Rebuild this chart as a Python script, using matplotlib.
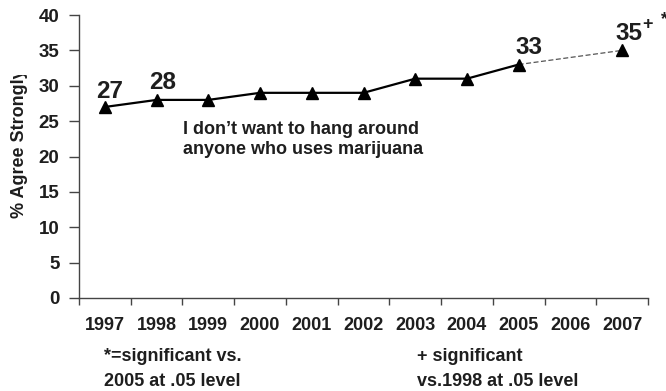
import matplotlib
matplotlib.use("Agg")
import matplotlib.pyplot as plt
from matplotlib.transforms import Bbox

plt.rcParams['font.family'] = ['Liberation Sans', 'DejaVu Sans']
plt.rcParams['font.weight'] = 'bold'

years = ['1997', '1998', '1999', '2000', '2001', '2002', '2003', '2004', '2005', '2006', '2007']
agree = [27, 28, 28, 29, 29, 29, 31, 31, 33, None, 35]
labelled = {0: '27', 1: '28', 8: '33', 10: '35'}
yticks = [0, 5, 10, 15, 20, 25, 30, 35, 40]
caption = ['I don\u2019t want to hang around', 'anyone who uses marijuana']
note_star = ['*=significant vs.', '2005 at .05 level']
note_plus = ['+ significant', 'vs.1998 at .05 level']

TXT = '#1e1e1e'
W, H = 666, 391
fig = plt.figure(figsize=(W / 100, H / 100), dpi=100)
ax = fig.add_axes([79 / W, (H - 298) / H, 569 / W, 283 / H])


def px(x, y):
    """Figure-fraction position from pixel coordinates measured from the top-left."""
    return x / W, (H - y) / H


xs = list(range(len(years)))
# solid trend through 2005, dashed step to 2007 across the missing year
solid_x = [x for x, v in zip(xs, agree) if v is not None and x <= 8]
solid_y = [agree[x] for x in solid_x]
ax.plot(solid_x, solid_y, color='black', lw=1.6, zorder=3)
ax.plot([8, 10], [agree[8], agree[10]], color='#555555', lw=0.9,
        ls=(0, (4, 2)), zorder=2)
pts_x = [x for x, v in zip(xs, agree) if v is not None]
pts_y = [agree[x] for x in pts_x]
ax.plot(pts_x, pts_y, ls='none', marker='^', ms=8, color='black', zorder=4)

offsets = {0: (5, 9), 1: (6, 11), 8: (10, 11), 10: (7, 10)}
for i, txt in labelled.items():
    dx, dy = offsets[i]
    ax.annotate(txt, (i, agree[i]), xytext=(dx, dy), textcoords='offset pixels',
                ha='center', va='baseline', fontsize=17.5, fontweight='bold', color=TXT)
ax.annotate('+', (10, agree[10]), xytext=(25, 26), textcoords='offset pixels',
            ha='center', va='center', fontsize=13, fontweight='bold', color=TXT)
ax.annotate('*', (10, agree[10]), xytext=(42, 31), textcoords='offset pixels',
            ha='center', va='center', fontsize=13, fontweight='bold', color=TXT,
            annotation_clip=False)

ax.set_xlim(-0.5, len(years) - 0.5)
ax.set_ylim(0, 40)
ax.set_yticks(yticks)
ax.set_xticks([x - 0.5 for x in range(len(years) + 1)])
ax.set_xticklabels([])
ax.set_xticks(xs, minor=True)
ax.set_xticklabels(years, minor=True)
ax.tick_params(axis='x', which='major', length=5, width=1, color='#444444', direction='out')
ax.tick_params(axis='x', which='minor', length=0, pad=14, labelsize=13, labelcolor=TXT)
ax.tick_params(axis='y', length=7, width=1, color='#444444', direction='out',
               pad=7, labelsize=13.5, labelcolor=TXT)
for lab in ax.get_xticklabels(minor=True) + ax.get_yticklabels():
    lab.set_fontweight('bold')
for s in ['top', 'right']:
    ax.spines[s].set_visible(False)
for s in ['left', 'bottom']:
    ax.spines[s].set_color('#444444')
    ax.spines[s].set_linewidth(1)

for line, base in zip(caption, [134, 154]):
    fig.text(*px(183, base), line, ha='left', va='baseline', fontsize=13,
             fontweight='bold', color=TXT)

ylab = fig.text(*px(20, 218), '% Agree Strongly', rotation=90,
                ha='center', va='bottom', fontsize=13, fontweight='bold', color=TXT)
ylab.set_clip_box(Bbox([[0, 0], [W, H - 75]]))
ylab.set_clip_on(True)

for lines, left in [(note_star, 104), (note_plus, 417)]:
    for line, base in zip(lines, [361, 386]):
        fig.text(*px(left, base), line, ha='left', va='baseline', fontsize=13,
                 fontweight='bold', color=TXT)

fig.savefig('out.png', dpi=100)
